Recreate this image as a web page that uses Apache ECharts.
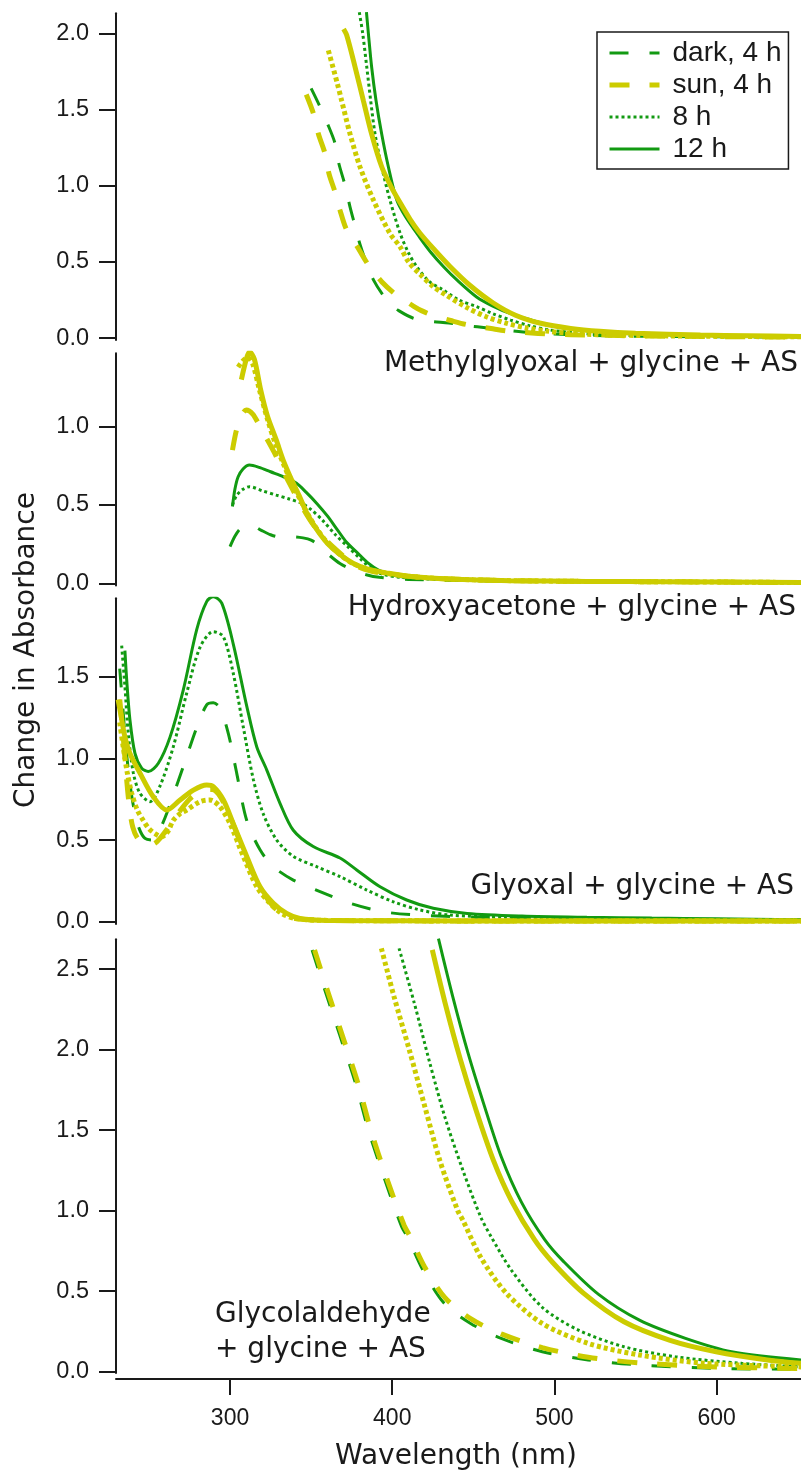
<!DOCTYPE html>
<html>
<head>
<meta charset="utf-8">
<script src="https://cdn.jsdelivr.net/npm/echarts@6.0.0/dist/echarts.min.js"></script>
<style>
html, body { margin: 0; padding: 0; background: #fff; }
#chart { width: 801px; height: 1475px; }
</style>
</head>
<body>
<div id="chart"></div>
<script>
// 数据: [波长 nm, 吸光度变化]
// 面板1 Methylglyoxal
var mgDark = [[350,1.64],[355,1.53],[360,1.41],[364.7,1.28],[367,1.15],[371,1.00],[374,0.86],[377,0.74],[380,0.62],[383.5,0.51],[388.5,0.38],[394.5,0.28],[400,0.215],[404,0.18],[413,0.13],[423,0.11],[435,0.098],[445,0.083],[460,0.064],[470,0.052],[485,0.036],[500,0.026],[520,0.018],[550,0.012],[600,0.008],[652,0.006]];
var mg8 = [[379.7,2.14],[381.8,2.0],[384.3,1.78],[386.7,1.56],[389.4,1.34],[393.5,1.125],[398.6,0.906],[404.8,0.69],[410,0.56],[415,0.47],[423,0.37],[431.5,0.315],[441,0.25],[452,0.206],[462,0.16],[473,0.118],[485,0.08],[497,0.053],[512,0.035],[528,0.022],[560,0.015],[600,0.011],[652,0.008]];
var mg12 = [[384.1,2.14],[385.3,2.0],[387.3,1.78],[390,1.56],[393.5,1.34],[397.6,1.125],[402.8,0.906],[408,0.80],[417,0.66],[424,0.56],[431.5,0.47],[440,0.38],[452,0.27],[462,0.21],[473,0.16],[485,0.12],[497,0.085],[512,0.058],[528,0.042],[550,0.03],[570,0.022],[610,0.015],[652,0.01]];
var mgSun4 = [[347,1.60],[351.4,1.475],[354.5,1.34],[358.6,1.21],[361,1.08],[364.7,0.96],[367.8,0.84],[371.9,0.71],[379,0.59],[385.3,0.48],[393.5,0.37],[402.8,0.28],[408,0.245],[413,0.21],[418,0.18],[426,0.145],[436,0.115],[446,0.088],[461,0.062],[471,0.046],[490,0.03],[510,0.022],[540,0.016],[580,0.011],[620,0.008],[652,0.006]];
var mgSun8 = [[360.6,1.89],[366.2,1.67],[368.8,1.56],[374,1.34],[380.1,1.125],[388.4,0.906],[398.6,0.687],[404.8,0.60],[410,0.5],[417,0.42],[425,0.34],[433.5,0.28],[446,0.20],[458,0.14],[470,0.098],[483,0.066],[495,0.046],[508,0.032],[530,0.021],[570,0.014],[610,0.01],[652,0.008]];
var mgSun12 = [[370,2.03],[371.9,1.99],[377.1,1.78],[382.2,1.56],[387.3,1.34],[393.5,1.125],[399,1.0],[404.8,0.89],[411,0.78],[417,0.69],[426,0.58],[435.6,0.47],[448,0.345],[462.3,0.23],[476,0.15],[491.5,0.097],[510,0.063],[528,0.044],[550,0.031],[590,0.02],[620,0.015],[652,0.01]];

// 面板2 Hydroxyacetone
var hyDark = [[300,0.234],[303,0.30],[306,0.345],[310,0.365],[313,0.372],[319,0.34],[325,0.31],[330,0.297],[338,0.297],[345,0.29],[350,0.276],[355,0.24],[360,0.19],[368,0.125],[376,0.085],[384,0.055],[392,0.038],[410,0.025],[440,0.018],[480,0.014],[550,0.01],[652,0.005]];
var hy8 = [[301.5,0.50],[304,0.56],[308,0.60],[312,0.617],[320,0.59],[328.5,0.563],[336,0.54],[344.3,0.51],[350,0.47],[356.9,0.404],[365,0.31],[372.6,0.234],[380,0.16],[388.4,0.085],[395,0.055],[405,0.038],[420,0.028],[444,0.02],[480,0.015],[550,0.01],[652,0.005]];
var hy12 = [[301.5,0.49],[303,0.60],[305,0.68],[308,0.73],[312,0.755],[318,0.74],[325,0.712],[333,0.68],[341,0.638],[347,0.58],[353.5,0.51],[360,0.43],[366.3,0.34],[372,0.26],[379,0.19],[385,0.13],[391.5,0.085],[400,0.055],[407,0.04],[420,0.03],[444,0.02],[480,0.015],[550,0.01],[652,0.005]];
var hySun4 = [[301.5,0.85],[304,0.98],[307,1.07],[310,1.106],[314,1.08],[318,1.01],[322,0.935],[327,0.84],[331.5,0.744],[336,0.65],[341,0.553],[346,0.46],[350.7,0.383],[357,0.30],[363.3,0.234],[371,0.165],[379,0.106],[388,0.075],[397.6,0.06],[410,0.045],[426,0.032],[450,0.022],[473,0.017],[520,0.012],[568,0.01],[652,0.005]];
var hySun8 = [[305,1.38],[308,1.42],[311,1.44],[314,1.40],[318,1.24],[323,1.05],[328,0.89],[333,0.76],[338,0.64],[343,0.54],[348,0.44],[354,0.34],[360,0.26],[367,0.19],[375,0.13],[385,0.09],[397,0.063],[410,0.045],[426,0.032],[450,0.022],[473,0.017],[520,0.012],[568,0.01],[652,0.005]];
var hySun12 = [[307,1.30],[310,1.43],[312,1.478],[315,1.43],[319,1.23],[323,1.07],[328.5,0.915],[333,0.78],[338,0.66],[343,0.55],[347.4,0.447],[353,0.35],[360,0.255],[367,0.19],[375.8,0.128],[385,0.09],[397.9,0.064],[410,0.045],[426.3,0.032],[450,0.022],[473,0.017],[520,0.012],[568,0.01],[652,0.005]];

// 面板3 Glyoxal
var gyDark = [[232,1.55],[234,1.30],[236,1.05],[238.5,0.83],[241,0.68],[244,0.57],[247.6,0.51],[252,0.50],[256,0.55],[261,0.664],[271.2,0.95],[279.5,1.19],[285.6,1.327],[289.7,1.34],[293.8,1.31],[299,1.15],[304.1,0.91],[310.3,0.62],[318.5,0.44],[326.7,0.337],[339,0.255],[355.5,0.184],[374,0.113],[394.5,0.061],[415,0.041],[450,0.028],[500,0.02],[560,0.015],[652,0.01]];
var gy8 = [[233.2,1.69],[235.2,1.44],[237.3,1.15],[240.4,0.91],[244.5,0.786],[250.7,0.735],[256.8,0.83],[265,1.07],[273.3,1.40],[281.5,1.68],[289.7,1.776],[295.9,1.745],[302,1.52],[308.2,1.19],[314.4,0.87],[320.5,0.66],[328.8,0.50],[339,0.40],[353.4,0.337],[367.8,0.276],[384.3,0.194],[400.7,0.122],[417.1,0.072],[435.6,0.041],[470,0.028],[520,0.02],[580,0.015],[652,0.01]];
var gy12 = [[235.2,1.66],[236.3,1.48],[238.3,1.235],[241.4,1.03],[245.5,0.94],[249.6,0.92],[255.8,0.97],[263,1.13],[271.2,1.42],[279.5,1.79],[285.6,1.96],[289.7,1.99],[294.9,1.95],[302,1.70],[310.3,1.32],[316.5,1.07],[322.6,0.93],[330.8,0.725],[339,0.56],[351.3,0.46],[367.8,0.39],[378.1,0.317],[392.5,0.214],[408.9,0.133],[425.3,0.082],[446.2,0.051],[480,0.035],[520,0.027],[560,0.022],[600,0.018],[652,0.012]];
var gySun4 = [[232,1.36],[234,1.15],[236,0.90],[238,0.70],[240,0.58],[243,0.51],[247,0.48],[251,0.47],[255,0.49],[260,0.55],[265,0.62],[270,0.69],[275,0.75],[280,0.79],[285,0.81],[289,0.81],[293,0.78],[298,0.69],[303,0.57],[308,0.44],[313,0.32],[318,0.22],[323,0.14],[328,0.08],[334,0.04],[340,0.02],[360,0.008],[450,0.005],[652,0.005]];
var gySun8 = [[232,1.22],[234,1.08],[236.5,0.92],[239.4,0.786],[243,0.68],[246.5,0.62],[250,0.57],[253.7,0.54],[257.9,0.52],[261.5,0.55],[265,0.62],[269,0.66],[273.3,0.684],[281.5,0.735],[287.6,0.745],[293.8,0.704],[300,0.60],[308.2,0.40],[316.5,0.214],[324.6,0.113],[332,0.05],[340,0.02],[360,0.008],[450,0.005],[652,0.005]];
var gySun12 = [[231,1.36],[233,1.25],[235,1.14],[238.3,1.03],[244.5,0.91],[252.7,0.765],[261,0.684],[269.2,0.745],[277.4,0.806],[285.6,0.837],[289.7,0.827],[295.9,0.745],[302,0.60],[310.3,0.40],[318.5,0.214],[326.7,0.113],[334.9,0.051],[343.1,0.02],[360,0.008],[450,0.005],[652,0.005]];

// 面板4 Glycolaldehyde
var gcDark = [[350.6,2.62],[358.5,2.37],[368,2.08],[377.4,1.79],[385.3,1.50],[394.8,1.21],[405.8,0.90],[409.3,0.84],[419,0.63],[432,0.425],[448.3,0.30],[467.2,0.207],[492.5,0.124],[520.8,0.073],[552.4,0.042],[599.7,0.021],[652,0.015]];
var gc8 = [[404.2,2.63],[413.6,2.29],[423.1,1.92],[432.5,1.58],[443.6,1.25],[454.6,0.96],[460.9,0.84],[473.5,0.63],[492.5,0.40],[514.5,0.26],[542.9,0.155],[574.5,0.093],[615.5,0.052],[652,0.03]];
var gc12 = [[428.5,2.69],[437.3,2.33],[446.7,1.98],[456.2,1.67],[467.2,1.335],[479.8,1.05],[494,0.82],[505.1,0.69],[527.2,0.48],[552.4,0.32],[580.8,0.207],[609.2,0.124],[652,0.073]];
var gcSun4 = [[352.1,2.62],[360,2.37],[369.5,2.08],[378.9,1.79],[386.8,1.50],[396.3,1.21],[407.3,0.91],[411,0.84],[420,0.65],[432.5,0.46],[448.3,0.33],[467.2,0.235],[492.5,0.15],[520.8,0.09],[552.4,0.055],[599.7,0.03],[652,0.02]];
var gcSun8 = [[393.3,2.63],[401.1,2.33],[410.5,2.0],[420,1.65],[429.4,1.31],[440.4,1.0],[443.6,0.94],[454.6,0.71],[470.4,0.487],[492.5,0.30],[520.8,0.176],[552.4,0.104],[593.4,0.052],[652,0.03]];
var gcSun12 = [[424.7,2.62],[432.6,2.29],[442,1.94],[451.5,1.63],[462.5,1.31],[473.6,1.06],[487.7,0.82],[498.8,0.68],[517.7,0.49],[542.9,0.31],[571.3,0.195],[599.7,0.124],[631.3,0.073],[652,0.052]];

// 刻度
var xTicks = [300, 400, 500, 600];
var yTicks1 = [0, 0.5, 1, 1.5, 2];
var yTicks2 = [0, 0.5, 1];
var yTicks3 = [0, 0.5, 1, 1.5];
var yTicks4 = [0, 0.5, 1, 1.5, 2, 2.5];

var green = '#129a12';
var yellow = '#cccc00';
var ink = '#1a1a1a';

var chartDom = document.getElementById('chart');
var myChart = echarts.init(chartDom);

// 每个面板的位置和y轴范围
var panels = [
	{ top: 13.3, height: 326.7, min: -0.013, max: 2.133, ticks: yTicks1, data: [mgDark, mg8, mg12, mgSun4, mgSun8, mgSun12] },
	{ top: 353.3, height: 232.2, min: -0.014, max: 1.468, ticks: yTicks2, data: [hyDark, hy8, hy12, hySun4, hySun8, hySun12] },
	{ top: 598.3, height: 325.7, min: -0.014, max: 1.98, ticks: yTicks3, data: [gyDark, gy8, gy12, gySun4, gySun8, gySun12] },
	{ top: 939.3, height: 433.7, min: -0.008, max: 2.686, ticks: yTicks4, data: [gcDark, gc8, gc12, gcSun4, gcSun8, gcSun12] }
];

// 线型: 绿色先画, 黄色在上
var lineStyles = [
	{ name: 'dark, 4 h', color: green, width: 3, type: [19, 21] },
	{ name: '8 h', color: green, width: 3, type: [3, 3] },
	{ name: '12 h', color: green, width: 3, type: 'solid' },
	{ name: 'sun, 4 h', color: yellow, width: 5, type: [20, 20] },
	{ name: 'sun, 8 h', color: yellow, width: 5, type: [4, 3] },
	{ name: 'sun, 12 h', color: yellow, width: 5, type: 'solid' }
];

var grids = [], xAxes = [], yAxes = [], series = [];

panels.forEach(function(p, i) {
	var last = i === panels.length - 1;
	grids.push({ left: 116, width: 685, top: p.top, height: p.height, outerBoundsMode: 'none' });
	xAxes.push({
		type: 'value',
		gridIndex: i,
		min: 229.7,
		max: 652,
		show: last,
		offset: last ? 6 : 0,
		axisLine: { show: true, onZero: false, lineStyle: { color: ink, width: 2 } },
		axisTick: { show: true, length: 16, lineStyle: { color: ink, width: 2 }, customValues: xTicks },
		axisLabel: { show: true, margin: 28, fontSize: 23, fontFamily: 'Liberation Sans', color: ink, customValues: xTicks },
		splitLine: { show: false }
	});
	yAxes.push({
		type: 'value',
		gridIndex: i,
		min: p.min,
		max: p.max,
		axisLine: { show: true, lineStyle: { color: ink, width: 2 } },
		axisTick: { show: true, length: 17, lineStyle: { color: ink, width: 2 }, customValues: p.ticks },
		axisLabel: {
			show: true, margin: 27, fontSize: 23.5, fontFamily: 'Liberation Sans', color: ink,
			customValues: p.ticks,
			formatter: function(v) { return v.toFixed(1); }
		},
		splitLine: { show: false }
	});
	p.data.forEach(function(d, k) {
		var s = lineStyles[k];
		series.push({
			name: s.name,
			type: 'line',
			xAxisIndex: i,
			yAxisIndex: i,
			data: d,
			symbol: 'none',
			smooth: 0.3,
			silent: true,
			lineStyle: { color: s.color, width: s.width, type: s.type },
			itemStyle: { color: s.color }
		});
	});
});

var textFont = 'DejaVu Sans';

var option = {
	animation: false,
	backgroundColor: '#fff',
	grid: grids,
	xAxis: xAxes,
	yAxis: yAxes,
	legend: {
		orient: 'vertical',
		left: 597,
		top: 32,
		data: [
			{ name: 'dark, 4 h', lineStyle: { width: 3 } },
			{ name: 'sun, 4 h', lineStyle: { width: 5 } },
			{ name: '8 h', lineStyle: { width: 3 } },
			{ name: '12 h', lineStyle: { width: 3 } }
		],
		itemWidth: 50,
		itemHeight: 14,
		itemGap: 4,
		padding: [7, 7, 6, 10],
		borderColor: ink,
		borderWidth: 1.5,
		selectedMode: false,
		itemStyle: { opacity: 0 },
		textStyle: { fontFamily: 'Liberation Sans', fontSize: 28, lineHeight: 28, color: ink, padding: [0, 0, 0, 8] }
	},
	graphic: [
		{ type: 'text', x: 798, y: 364, style: { text: 'Methylglyoxal + glycine + AS', align: 'right', verticalAlign: 'middle', fontSize: 28, fontFamily: textFont, fill: ink } },
		{ type: 'text', x: 796, y: 608, style: { text: 'Hydroxyacetone + glycine + AS', align: 'right', verticalAlign: 'middle', fontSize: 28, fontFamily: textFont, fill: ink } },
		{ type: 'text', x: 794, y: 887, style: { text: 'Glyoxal + glycine + AS', align: 'right', verticalAlign: 'middle', fontSize: 28, fontFamily: textFont, fill: ink } },
		{ type: 'text', x: 215, y: 1315, style: { text: 'Glycolaldehyde', align: 'left', verticalAlign: 'middle', fontSize: 28, fontFamily: textFont, fill: ink } },
		{ type: 'text', x: 215, y: 1350, style: { text: '+ glycine + AS', align: 'left', verticalAlign: 'middle', fontSize: 28, fontFamily: textFont, fill: ink } },
		{ type: 'text', x: 456, y: 1457, style: { text: 'Wavelength (nm)', align: 'center', verticalAlign: 'middle', fontSize: 28, fontFamily: textFont, fill: ink } },
		{ type: 'text', x: 27, y: 650, rotation: Math.PI / 2, style: { text: 'Change in Absorbance', align: 'center', verticalAlign: 'middle', fontSize: 28, fontFamily: textFont, fill: ink } }
	],
	series: series
};

myChart.setOption(option);
</script>
</body>
</html>
